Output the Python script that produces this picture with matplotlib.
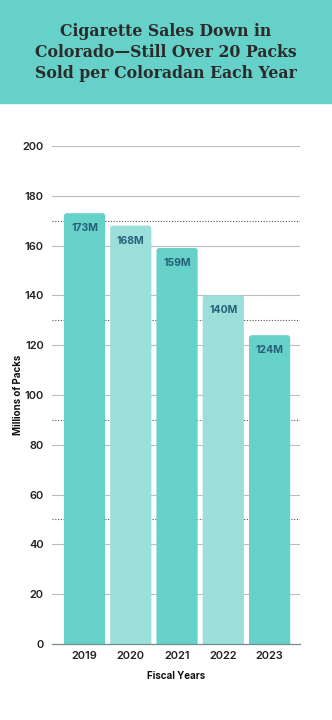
import matplotlib.pyplot as plt
from matplotlib.patches import Rectangle, FancyBboxPatch

years = ['2019', '2020', '2021', '2022', '2023']
packs = [173, 168, 159, 140, 124]
bar_labels = ['173M', '168M', '159M', '140M', '124M']
y_ticks = [0, 20, 40, 60, 80, 100, 120, 140, 160, 180, 200]
dotted_levels = [50, 90, 130, 170]

dark_teal = '#66d1c9'
light_teal = '#9bdfdb'
bar_colors = [dark_teal, light_teal, dark_teal, light_teal, dark_teal]

fig = plt.figure(figsize=(3.32, 7.2), dpi=100)

# header band
fig.patches.append(Rectangle((0, 0.857), 1, 0.143, transform=fig.transFigure,
                             color='#66d1c9', zorder=0))
fig.text(0.5, 0.927, 'Cigarette Sales Down in\nColorado\u2014Still Over 20 Packs\nSold per Coloradan Each Year',
         ha='center', va='center', fontsize=11.3, fontweight='bold',
         family='DejaVu Serif', color='#2b2b2b', linespacing=1.3)

ax = fig.add_axes([0.157, 0.1056, 0.747, 0.6917])
x = range(len(years))

for v in y_ticks[1:]:
    ax.axhline(v, color='#bdbdbd', lw=0.8, zorder=1)
for v in dotted_levels:
    ax.axhline(v, color='#555555', lw=0.8, ls=(0, (1, 1.5)), zorder=1)

bars = ax.bar(x, packs, width=0.89, color=bar_colors, zorder=2)
# swap plain bars for ones with softly rounded tops
for b in bars:
    rounded = FancyBboxPatch((b.get_x(), -5), b.get_width(), b.get_height() + 5,
                             boxstyle='round,pad=0,rounding_size=0.06',
                             mutation_aspect=18, facecolor=b.get_facecolor(),
                             edgecolor='none', zorder=2)
    ax.add_patch(rounded)
    b.set_visible(False)

for i, (b, lab) in enumerate(zip(bars, bar_labels)):
    ax.text(b.get_x() + b.get_width() / 2, packs[i] - 4, lab, ha='center', va='top',
            fontsize=7.5, fontweight='bold', family='Inter', color='#25607a', zorder=3)

ax.set_xlim(-0.70, 4.66)
ax.set_ylim(0, 200)
ax.set_yticks(y_ticks)
ax.set_xticks(list(x))
ax.set_xticklabels(years)
for s in ['top', 'right', 'left']:
    ax.spines[s].set_visible(False)
ax.spines['bottom'].set_color('#6f8f8c')
ax.spines['bottom'].set_linewidth(0.9)
ax.spines['bottom'].set_zorder(3)
ax.tick_params(axis='both', length=0, labelsize=8, colors='#222222', pad=5)
ax.tick_params(axis='y', pad=6)
for t in ax.get_xticklabels() + ax.get_yticklabels():
    t.set_family('Inter')
    t.set_fontweight('semibold')

ax.set_ylabel('Millions of Packs', fontsize=7, fontweight='bold', family='Inter',
              color='#111111')
ax.yaxis.set_label_coords(-0.117, 0.5)
ax.set_xlabel('Fiscal Years', fontsize=7, fontweight='bold', family='Inter',
              color='#111111', labelpad=7)

fig.savefig('out.png', dpi=100)
